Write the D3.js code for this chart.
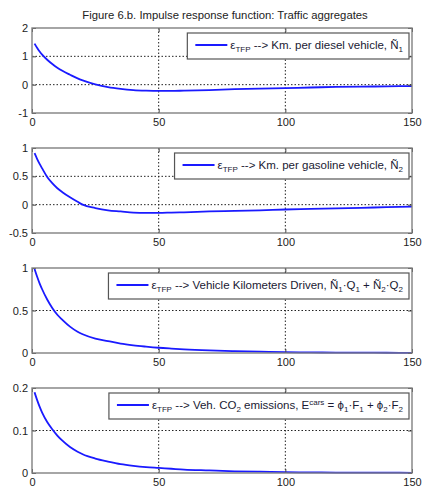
<!DOCTYPE html>
<html>
<head>
<meta charset="utf-8">
<script src="https://cdn.jsdelivr.net/npm/d3@7"></script>
<style>
  body { margin: 0; background: #fff; }
  svg { font-family: Arial, "Liberation Sans", sans-serif; }
</style>
</head>
<body>
<svg id="chart" width="422" height="491"></svg>
<script>
const periods = [1, 2, 3, 4, 6, 8, 10, 12, 15, 18, 20, 25, 30, 35, 40, 45, 50, 55, 60, 70, 80, 90, 100, 110, 120, 130, 140, 150];

const diesel = [1.45, 1.3, 1.17, 1.06, 0.88, 0.73, 0.6, 0.49, 0.35, 0.22, 0.15, 0.01, -0.09, -0.15, -0.19, -0.21, -0.22, -0.22, -0.21, -0.19, -0.16, -0.14, -0.12, -0.1, -0.08, -0.07, -0.06, -0.05];
const gasoline = [0.91, 0.81, 0.72, 0.64, 0.49, 0.38, 0.29, 0.22, 0.13, 0.05, 0.0, -0.06, -0.1, -0.12, -0.14, -0.145, -0.145, -0.14, -0.135, -0.12, -0.11, -0.1, -0.085, -0.075, -0.065, -0.055, -0.045, -0.035];
const vkd = [0.99, 0.9, 0.82, 0.75, 0.63, 0.53, 0.45, 0.39, 0.31, 0.25, 0.22, 0.17, 0.14, 0.11, 0.09, 0.075, 0.062, 0.052, 0.043, 0.03, 0.021, 0.015, 0.01, 0.007, 0.005, 0.004, 0.003, 0.002];
const co2 = [0.19, 0.172, 0.156, 0.142, 0.12, 0.103, 0.088, 0.076, 0.061, 0.05, 0.044, 0.034, 0.027, 0.021, 0.017, 0.014, 0.012, 0.01, 0.008, 0.006, 0.004, 0.003, 0.002, 0.0015, 0.001, 0.001, 0.0008, 0.0005];

const xTicks = [0, 50, 100, 150];
const yTicks1 = [-1, 0, 1, 2];
const yTicks2 = [-0.5, 0, 0.5, 1];
const yTicks3 = [0, 0.5, 1];
const yTicks4 = [0, 0.1, 0.2];

const title = 'Figure 6.b. Impulse response function: Traffic aggregates';

// legend labels as pieces: [text, 'sub' | 'sup' | null]
const legend1 = [['ε', null], ['TFP', 'sub'], [' --> Km. per diesel vehicle, Ñ', null], ['1', 'sub']];
const legend2 = [['ε', null], ['TFP', 'sub'], [' --> Km. per gasoline vehicle, Ñ', null], ['2', 'sub']];
const legend3 = [['ε', null], ['TFP', 'sub'], [' --> Vehicle Kilometers Driven, Ñ', null], ['1', 'sub'], ['·Q', null], ['1', 'sub'], [' + Ñ', null], ['2', 'sub'], ['·Q', null], ['2', 'sub']];
const legend4 = [['ε', null], ['TFP', 'sub'], [' --> Veh. CO', null], ['2', 'sub'], [' emissions, E', null], ['cars', 'sup'], [' = ϕ', null], ['1', 'sub'], ['·F', null], ['1', 'sub'], [' + ϕ', null], ['2', 'sub'], ['·F', null], ['2', 'sub']];

const panels = [
  { values: diesel, ticks: yTicks1, legend: legend1 },
  { values: gasoline, ticks: yTicks2, legend: legend2 },
  { values: vkd, ticks: yTicks3, legend: legend3 },
  { values: co2, ticks: yTicks4, legend: legend4 }
];

const svg = d3.select('#chart');
const left = 32, right = 412, ph = 85;
const tops = [28, 148, 268, 388];

svg.append('text')
  .attr('x', 225).attr('y', 19)
  .attr('text-anchor', 'middle')
  .attr('font-size', 11.3)
  .attr('fill', '#222')
  .text(title);

const x = d3.scaleLinear().domain([0, 150]).range([left, right]);

panels.forEach((p, i) => {
  const top = tops[i];
  const y = d3.scaleLinear().domain(d3.extent(p.ticks)).range([top + ph, top]);
  const g = svg.append('g');

  // grid (dotted) at inner ticks
  g.selectAll('.gx').data(xTicks.slice(1, -1)).enter().append('line')
    .attr('x1', d => x(d)).attr('x2', d => x(d))
    .attr('y1', top).attr('y2', top + ph)
    .attr('stroke', '#222').attr('stroke-width', 1).attr('stroke-dasharray', '1.5,2');
  g.selectAll('.gy').data(p.ticks.slice(1, -1)).enter().append('line')
    .attr('x1', left).attr('x2', right)
    .attr('y1', d => y(d)).attr('y2', d => y(d))
    .attr('stroke', '#222').attr('stroke-width', 1).attr('stroke-dasharray', '1.5,2');

  // the response line
  const line = d3.line().x((d, j) => x(periods[j])).y(d => y(d)).curve(d3.curveMonotoneX);
  g.append('path').datum(p.values)
    .attr('d', line)
    .attr('fill', 'none').attr('stroke', '#1a1aff').attr('stroke-width', 1.8);

  // axes box with inward ticks
  g.append('g').attr('transform', 'translate(0,' + (top + ph) + ')')
    .call(d3.axisBottom(x).tickValues(xTicks).tickSize(-4).tickPadding(5).tickFormat(d3.format('d')))
    .call(a => a.select('.domain').remove());
  g.append('g').attr('transform', 'translate(0,' + top + ')')
    .call(d3.axisTop(x).tickValues(xTicks).tickSize(-4).tickFormat(''))
    .call(a => a.select('.domain').remove());
  g.append('g').attr('transform', 'translate(' + left + ',0)')
    .call(d3.axisLeft(y).tickValues(p.ticks).tickSize(-4).tickPadding(4).tickFormat(d => String(d)))
    .call(a => a.select('.domain').remove());
  g.append('g').attr('transform', 'translate(' + right + ',0)')
    .call(d3.axisRight(y).tickValues(p.ticks).tickSize(-4).tickFormat(''))
    .call(a => a.select('.domain').remove());
  g.selectAll('.tick line').attr('stroke', '#444');
  g.selectAll('.tick text').attr('font-size', 11).attr('fill', '#222')
    .attr('font-family', 'Arial, "Liberation Sans", sans-serif');

  g.append('rect')
    .attr('x', left).attr('y', top).attr('width', right - left).attr('height', ph)
    .attr('fill', 'none').attr('stroke', '#808080').attr('stroke-width', 1.4);

  // legend
  const lg = g.append('g');
  const box = lg.append('rect');
  const ly = top + 21;
  const txt = lg.append('text').attr('y', ly).attr('font-size', 11.5).attr('fill', '#1a1a33');
  let shift = 0;
  p.legend.forEach(([s, kind]) => {
    const t = txt.append('tspan').text(s);
    const want = kind === 'sub' ? 3 : kind === 'sup' ? -4 : 0;
    if (want !== shift) t.attr('dy', want - shift);
    shift = want;
    if (kind) t.attr('font-size', 8);
  });
  const tw = txt.node().getComputedTextLength();
  const bx1 = 409, bx0 = bx1 - 6 - tw - 43;
  txt.attr('x', bx0 + 43);
  box.attr('x', bx0).attr('y', top + 5).attr('width', bx1 - bx0).attr('height', 26)
    .attr('fill', '#fff').attr('stroke', '#555').attr('stroke-width', 1.2);
  lg.append('line')
    .attr('x1', bx0 + 8).attr('x2', bx0 + 40)
    .attr('y1', ly - 4).attr('y2', ly - 4)
    .attr('stroke', '#1a1aff').attr('stroke-width', 1.8);
});
</script>
</body>
</html>
